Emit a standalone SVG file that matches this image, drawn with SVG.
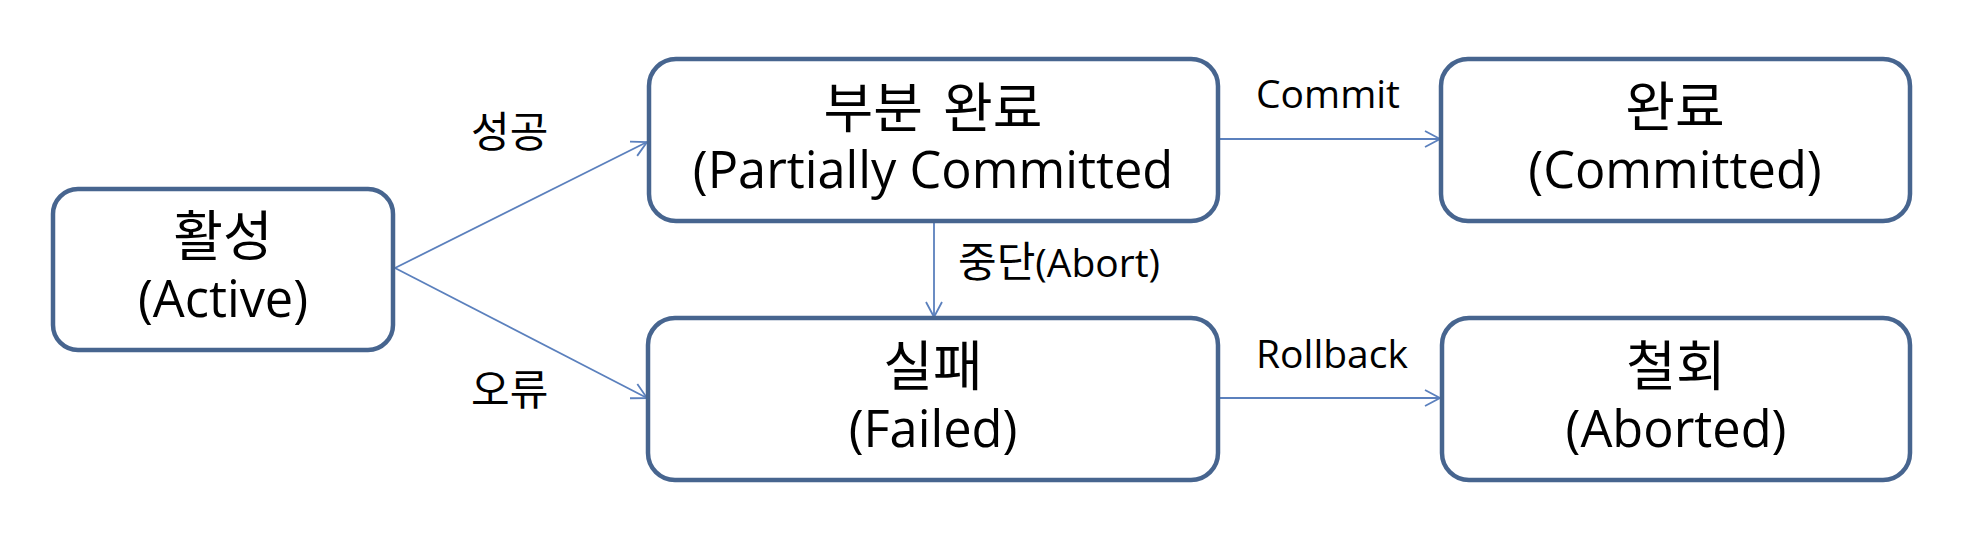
<svg xmlns="http://www.w3.org/2000/svg" width="1972" height="558" viewBox="0 0 1972 558">
<style>
.box{fill:#ffffff;stroke:#47658f;stroke-width:4.5}
.t{font-family:"Open Sans","Noto Sans CJK KR",sans-serif;font-size:50.5px;fill:#000;text-anchor:middle}
.k{font-family:"Noto Sans CJK KR","Open Sans",sans-serif;font-size:54px;fill:#000;text-anchor:middle}
.lbl{font-family:"Open Sans","Noto Sans CJK KR",sans-serif;font-size:39px;fill:#000}
.lk{font-family:"Noto Sans CJK KR","Open Sans",sans-serif;font-size:42px;fill:#000}
.c{fill:none;stroke:#5b80bd;stroke-width:1.8}
</style>
<defs>
<marker id="arr" markerUnits="userSpaceOnUse" markerWidth="20" markerHeight="20" refX="16" refY="9" orient="auto">
<path d="M1,1 L16,9 L1,17" fill="none" stroke="#5b80bd" stroke-width="1.8"/>
</marker>
</defs>
<rect width="1972" height="558" fill="#ffffff"/>
<g id="connectors">
<line class="c" x1="395" y1="268" x2="647" y2="142" marker-end="url(#arr)"/>
<line class="c" x1="395" y1="268" x2="647" y2="398" marker-end="url(#arr)"/>
<line class="c" x1="1220" y1="139" x2="1440" y2="139" marker-end="url(#arr)"/>
<line class="c" x1="1220" y1="398" x2="1440" y2="398" marker-end="url(#arr)"/>
<line class="c" x1="934" y1="222" x2="934" y2="317" marker-end="url(#arr)"/>
<text class="lk" x="471" y="147">성공</text>
<text class="lk" x="471" y="405">오류</text>
<text class="lbl" x="1256" y="108">Commit</text>
<text class="lbl" x="1256" y="368">Rollback</text>
<text class="lbl" x="958" y="277"><tspan font-family="Noto Sans CJK KR, sans-serif" font-size="42px">중단</tspan>(Abort)</text>
</g>
<g id="active">
<rect class="box" x="53" y="189" width="340" height="161" rx="25"/>
<text class="k" x="223" y="256">활성</text>
<text class="t" x="223" y="317">(Active)</text>
</g>
<g id="partially-committed">
<rect class="box" x="649" y="59" width="569" height="162" rx="27"/>
<text class="k" x="933" y="128" word-spacing="8">부분 완료</text>
<text class="t" x="933" y="188">(Partially Committed</text>
</g>
<g id="committed">
<rect class="box" x="1441" y="59" width="469" height="162" rx="27"/>
<text class="k" x="1675" y="127">완료</text>
<text class="t" x="1675" y="188">(Committed)</text>
</g>
<g id="failed">
<rect class="box" x="648" y="318" width="570" height="162" rx="27"/>
<text class="k" x="933" y="386">실패</text>
<text class="t" x="933" y="447">(Failed)</text>
</g>
<g id="aborted">
<rect class="box" x="1442" y="318" width="468" height="162" rx="27"/>
<text class="k" x="1676" y="386">철회</text>
<text class="t" x="1676" y="447">(Aborted)</text>
</g>
</svg>
